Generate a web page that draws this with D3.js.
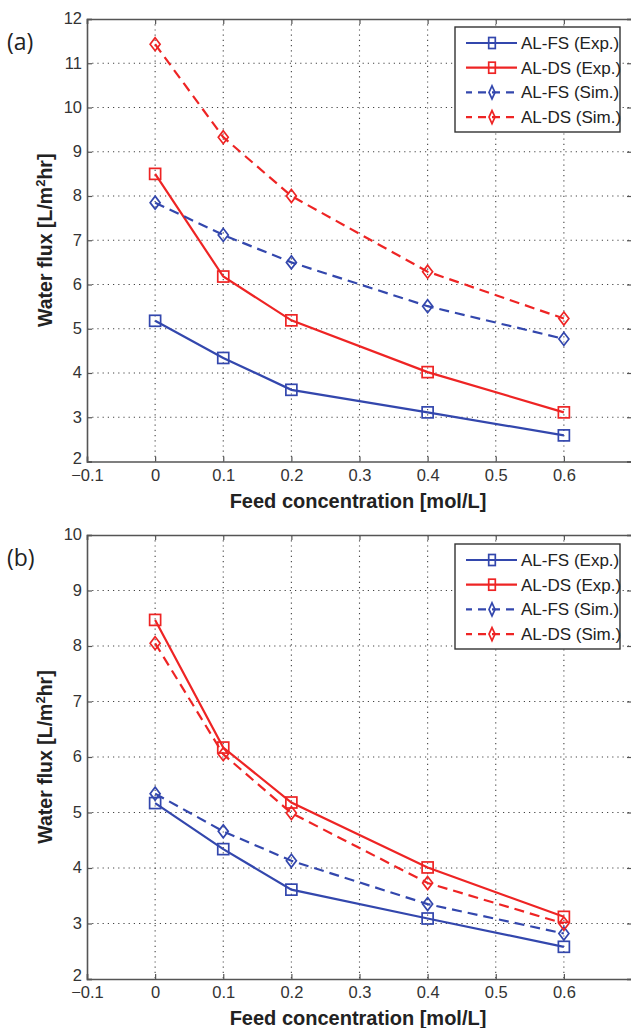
<!DOCTYPE html>
<html><head><meta charset="utf-8">
<script src="https://cdn.jsdelivr.net/npm/d3@7"></script>
<style>body{margin:0;background:#fff}svg{display:block}</style>
</head><body>
<script>
const xCats = [0, 0.1, 0.2, 0.4, 0.6];
const xTicks = [-0.1, 0, 0.1, 0.2, 0.3, 0.4, 0.5, 0.6];
const seriesNames = ["AL-FS (Exp.)", "AL-DS (Exp.)", "AL-FS (Sim.)", "AL-DS (Sim.)"];
// Panel (a)
const a_FS_Exp = [5.18, 4.34, 3.62, 3.11, 2.59];
const a_DS_Exp = [8.5, 6.18, 5.19, 4.02, 3.11];
const a_FS_Sim = [7.85, 7.12, 6.5, 5.51, 4.77];
const a_DS_Sim = [11.43, 9.33, 8.0, 6.29, 5.23];
const a_yTicks = [2,3,4,5,6,7,8,9,10,11,12];
// Panel (b)
const b_FS_Exp = [5.17, 4.34, 3.61, 3.09, 2.58];
const b_DS_Exp = [8.47, 6.17, 5.18, 4.01, 3.12];
const b_FS_Sim = [5.34, 4.66, 4.13, 3.35, 2.82];
const b_DS_Sim = [8.05, 6.05, 4.99, 3.73, 3.0];
const b_yTicks = [2,3,4,5,6,7,8,9,10];

const W = 631, H = 1028;
const BLUE = "#3347ad", RED = "#ee2424";
const styles = [
  {color: BLUE, dash: null, marker: "square"},
  {color: RED, dash: null, marker: "square"},
  {color: BLUE, dash: "10,6", marker: "diamond"},
  {color: RED, dash: "10,6", marker: "diamond"}
];
const FONT = "'Liberation Sans', Arial, sans-serif";

const svg = d3.select("body").append("svg").attr("width", W).attr("height", H)
  .style("font-family", FONT);

function drawMarker(g, type, cx, cy, color, sx) {
  sx = sx || 1;
  if (type === "square") {
    g.append("rect").attr("x", cx - 5.5*sx).attr("y", cy - 5.5).attr("width", 11*sx).attr("height", 11)
      .attr("fill", "none").attr("stroke", color).attr("stroke-width", 1.7);
  } else {
    g.append("path").attr("d", `M${cx},${cy-6.5}L${cx+5*sx},${cy}L${cx},${cy+6.5}L${cx-5*sx},${cy}Z`)
      .attr("fill", "none").attr("stroke", color).attr("stroke-width", 1.7);
  }
}

function panel(opts) {
  const {top, bottom, yTicks, data, label, legendTop} = opts;
  const left = 87, right = 632;
  const x = d3.scaleLinear().domain([-0.1, 0.7]).range([left, right]);
  const y = d3.scaleLinear().domain([yTicks[0], yTicks[yTicks.length-1]]).range([bottom, top]);
  const g = svg.append("g");

  // grid
  const grid = g.append("g").attr("stroke", "#444").attr("stroke-width", 1.1).attr("stroke-dasharray", "1.2,4");
  xTicks.slice(1).forEach(t => grid.append("line").attr("x1", x(t)).attr("x2", x(t)).attr("y1", top).attr("y2", bottom));
  yTicks.slice(1, -1).forEach(t => grid.append("line").attr("x1", left).attr("x2", right).attr("y1", y(t)).attr("y2", y(t)));

  // axes (box with inward ticks)
  const xAx = g.append("g").attr("transform", `translate(0,${bottom})`)
    .call(d3.axisBottom(x).tickValues(xTicks).tickSize(-5).tickPadding(11).tickFormat(d => d3.format("")(+d.toFixed(1))));
  const yAx = g.append("g").attr("transform", `translate(${left},0)`)
    .call(d3.axisLeft(y).tickValues(yTicks).tickSize(-5).tickPadding(5).tickFormat(d3.format("d")));
  const xTop = g.append("g").attr("transform", `translate(0,${top})`)
    .call(d3.axisTop(x).tickValues(xTicks).tickSize(-5).tickFormat(""));
  const yRight = g.append("g").attr("transform", `translate(${right},0)`)
    .call(d3.axisRight(y).tickValues(yTicks).tickSize(-5).tickFormat(""));
  [xAx, yAx, xTop, yRight].forEach(a => {
    a.select(".domain").attr("stroke", "#555").attr("stroke-width", 1.6);
    a.selectAll(".tick line").attr("stroke", "#555").attr("stroke-width", 1.2);
    a.selectAll("text").attr("fill", "#333").style("font-size", "16.5px")
      .style("font-family", FONT);
  });
  xAx.selectAll("text").attr("dy", "0.5em");
  yAx.selectAll("text").attr("dy", (d, i) => i === 0 ? "0.1em" : "0.3em");

  // lines
  const line = d3.line().x((d, i) => x(xCats[i])).y(d => y(d));
  data.forEach((vals, si) => {
    const s = styles[si];
    g.append("path").datum(vals).attr("d", line).attr("fill", "none")
      .attr("stroke", s.color).attr("stroke-width", 2.2)
      .attr("stroke-dasharray", s.dash);
    vals.forEach((v, i) => drawMarker(g, s.marker, x(xCats[i]), y(v), s.color));
  });

  // axis labels
  g.append("text").attr("x", 358).attr("y", bottom + 46)
    .attr("text-anchor", "middle").attr("font-weight", "bold").attr("font-size", 20).attr("fill", "#222")
    .text("Feed concentration [mol/L]");
  const yl = g.append("text").attr("transform", `translate(52,${(top + bottom) / 2}) rotate(-90)`)
    .attr("text-anchor", "middle").attr("font-weight", "bold").attr("font-size", 19.5).attr("fill", "#222");
  yl.append("tspan").text("Water flux [L/m");
  yl.append("tspan").attr("dy", -7).attr("font-size", 13).text("2");
  yl.append("tspan").attr("dy", 7).text("hr]");

  // panel label
  g.append("text").attr("x", 7).attr("y", top + 31).attr("font-size", 23).attr("fill", "#222")
    .style("font-family", "'Open Sans', 'DejaVu Sans', sans-serif").text(label);

  // legend
  const lx = 455, lw = 165, lh = 105;
  const lg = g.append("g");
  lg.append("rect").attr("x", lx).attr("y", legendTop).attr("width", lw).attr("height", lh)
    .attr("fill", "#fff").attr("stroke", "#333").attr("stroke-width", 1.4);
  seriesNames.forEach((name, i) => {
    const s = styles[i];
    const yy = legendTop + 16 + i * 24.7;
    lg.append("line").attr("x1", 466).attr("x2", 517).attr("y1", yy).attr("y2", yy)
      .attr("stroke", s.color).attr("stroke-width", 2.2).attr("stroke-dasharray", s.dash ? "8,6" : null)
      .attr("stroke-dashoffset", s.dash ? 2 : null);
    drawMarker(lg, s.marker, 492, yy, s.color, 0.6);
    lg.append("text").attr("x", 521).attr("y", yy + 6).attr("font-size", 17).attr("fill", "#222")
      .text(name);
  });
}

panel({top: 19, bottom: 461.5, yTicks: a_yTicks, label: "(a)", legendTop: 27,
  data: [a_FS_Exp, a_DS_Exp, a_FS_Sim, a_DS_Sim]});
panel({top: 535, bottom: 979, yTicks: b_yTicks, label: "(b)", legendTop: 544,
  data: [b_FS_Exp, b_DS_Exp, b_FS_Sim, b_DS_Sim]});
</script>
</body></html>
